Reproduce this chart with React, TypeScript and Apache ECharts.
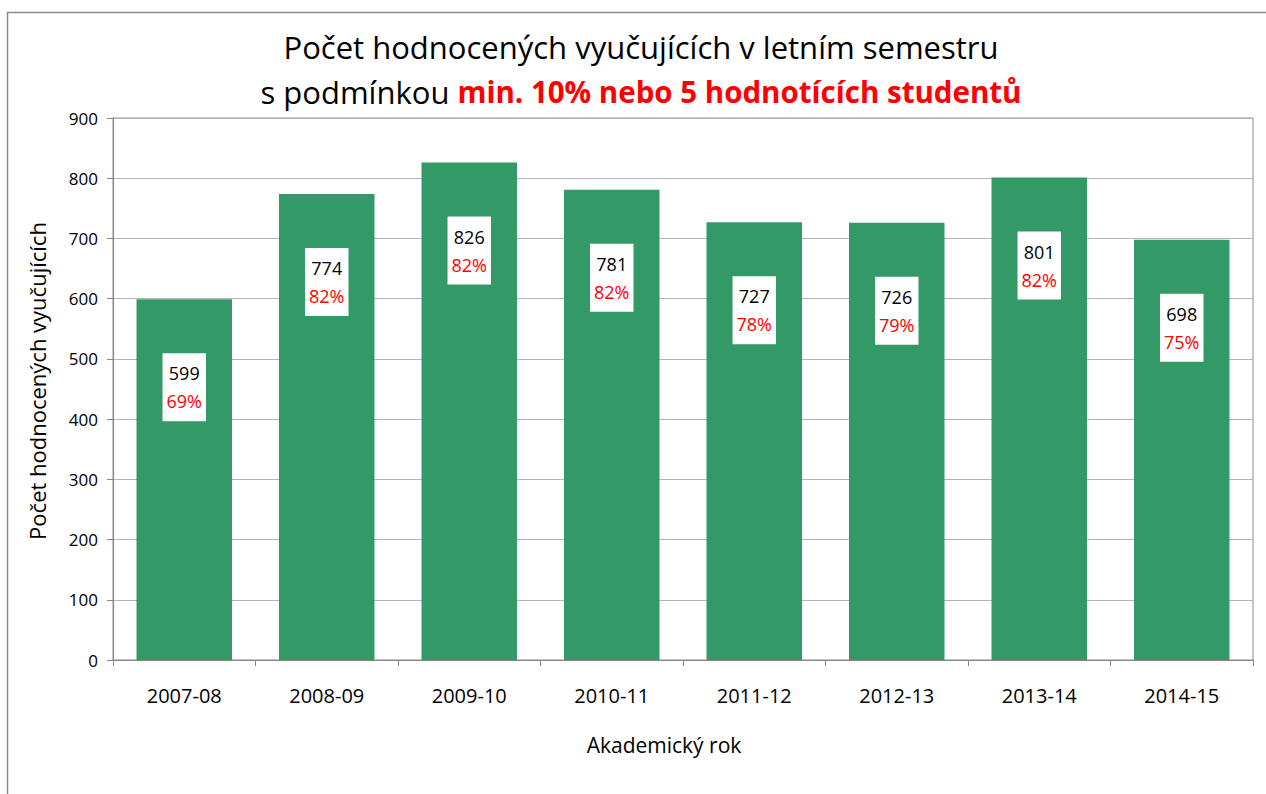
import React, { useEffect, useRef } from "react";
import * as echarts from "echarts";

const categories = ["2007-08", "2008-09", "2009-10", "2010-11", "2011-12", "2012-13", "2013-14", "2014-15"];
const teacherCounts = [599, 774, 826, 781, 727, 726, 801, 698];
const percentages = [69, 82, 82, 82, 78, 79, 82, 75];
const yTicks = { min: 0, max: 900, interval: 100 };

const FONT = "'Open Sans', 'Noto Sans', sans-serif";

export default function App() {
  const ref = useRef<HTMLDivElement>(null);
  useEffect(() => {
    if (!ref.current) return;
    const chart = echarts.init(ref.current, null, { renderer: "svg" });
    chart.setOption({
      animation: false,
      backgroundColor: "#ffffff",
      textStyle: { fontFamily: FONT },
      title: {
        left: 636,
        textAlign: "center",
        top: 19,
        text: "{n|Počet hodnocených vyučujících v letním semestru}\n{n|s podmínkou }{r|min. 10% nebo 5 hodnotících studentů}",
        textStyle: {
          rich: {
            n: { fontFamily: FONT, fontSize: 31, fontWeight: "normal", color: "#000000", lineHeight: 45 },
            r: { fontFamily: FONT, fontSize: 29.5, fontWeight: "bold", color: "#ff0000", lineHeight: 45 },
          },
        },
      },
      graphic: [
        {
          type: "rect",
          shape: { x: 7.5, y: 12.5, width: 1300, height: 820 },
          style: { fill: "none", stroke: "#8c8c8c", lineWidth: 1.5 },
          silent: true,
        },
      ],
      grid: {
        left: 113,
        top: 118,
        right: 13,
        bottom: 134,
        show: true,
        borderColor: "#8c8c8c",
        borderWidth: 1,
      },
      xAxis: {
        type: "category",
        data: categories,
        name: "Akademický rok",
        nameLocation: "middle",
        nameGap: 74,
        nameTextStyle: { fontFamily: FONT, fontSize: 21, color: "#000000", padding: [0, 38, 0, 0] },
        axisLine: { lineStyle: { color: "#868686", width: 1 } },
        axisTick: { show: true, length: 6, lineStyle: { color: "#868686" } },
        axisLabel: { fontFamily: FONT, fontSize: 20, color: "#000000", margin: 25 },
      },
      yAxis: {
        type: "value",
        min: yTicks.min,
        max: yTicks.max,
        interval: yTicks.interval,
        name: "Počet hodnocených vyučujících",
        nameLocation: "middle",
        nameGap: 65,
        nameTextStyle: { fontFamily: FONT, fontSize: 22, color: "#000000", padding: [0, 0, 0, 16] },
        axisLine: { show: true, lineStyle: { color: "#868686", width: 1 } },
        axisTick: { show: true, length: 6, lineStyle: { color: "#868686" } },
        axisLabel: { fontFamily: FONT, fontSize: 17, color: "#000000", margin: 15 },
        splitLine: { lineStyle: { color: "#b4b4b4", width: 1 } },
      },
      series: [
        {
          type: "bar",
          data: teacherCounts,
          barCategoryGap: "33%",
          itemStyle: { color: "#339966" },
          label: {
            show: true,
            position: "insideTop",
            distance: 54,
            backgroundColor: "#ffffff",
            padding: [6, 4, 6, 4],
            formatter: (p: any) => `{a|${teacherCounts[p.dataIndex]}}\n{b|${percentages[p.dataIndex]}%}`,
            rich: {
              a: { fontFamily: FONT, fontSize: 18, color: "#000000", lineHeight: 28, align: "center" },
              b: { fontFamily: FONT, fontSize: 18, color: "#ff0000", lineHeight: 28, align: "center" },
            },
          },
        },
      ],
    });
    return () => chart.dispose();
  }, []);
  return (
    <div
      ref={ref}
      style={{ position: "absolute", left: 0, top: 0, width: 1266, height: 794 }}
    />
  );
}
